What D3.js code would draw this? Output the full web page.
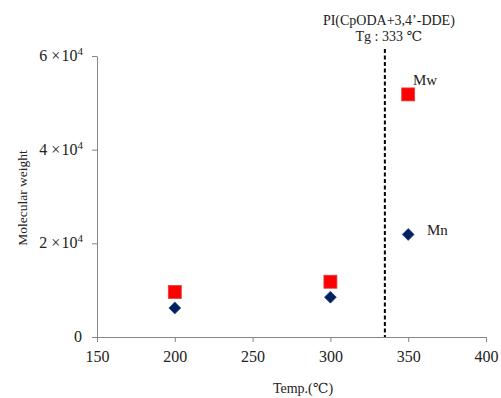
<!DOCTYPE html>
<html>
<head>
<meta charset="utf-8">
<script src="https://cdn.jsdelivr.net/npm/d3@7"></script>
<style>
  body { margin: 0; background: #fff; }
  text { font-family: "Liberation Serif", "DejaVu Serif", serif; fill: #222; }
</style>
</head>
<body>
<div id="chart"></div>
<script>
// temperatures (°C) and molecular weights
const temps = [200, 300, 350];
const mw = [9600, 11800, 51800];
const mn = [6200, 8500, 21900];
const xTicks = [150, 200, 250, 300, 350, 400];
const yTicks = [0, 20000, 40000, 60000];
const yTickLabels = ["0", "2", "4", "6"];
const tg = 335;

const width = 501, height = 398;

const svg = d3.select("#chart").append("svg")
  .attr("width", width)
  .attr("height", height);

const x = d3.scaleLinear().domain([150, 400]).range([97, 486]);
const y = d3.scaleLinear().domain([0, 60000]).range([337, 56]);

// axes
const xAxis = svg.append("g")
  .attr("transform", "translate(0," + y(0) + ")")
  .call(d3.axisBottom(x).tickValues(xTicks).tickSize(5).tickSizeOuter(0).tickPadding(9));
const yAxis = svg.append("g")
  .attr("transform", "translate(" + x(150) + ",0)")
  .call(d3.axisLeft(y).tickValues(yTicks).tickSize(5).tickSizeOuter(0).tickFormat(() => ""));

[xAxis, yAxis].forEach(g => {
  g.select(".domain").attr("stroke", "#868686").attr("stroke-width", 1);
  g.selectAll(".tick line").attr("stroke", "#868686");
});
xAxis.selectAll(".tick text")
  .attr("font-size", 16)
  .attr("fill", "#222");

// y tick labels like 6×10^4
yTicks.forEach((v, i) => {
  const t = svg.append("text")
    .attr("x", 83)
    .attr("y", y(v) + 5)
    .attr("text-anchor", "end")
    .attr("font-size", 16);
  if (v === 0) {
    t.attr("x", 82).text("0");
  } else {
    t.append("tspan").text(yTickLabels[i] + " \u00d7\u200a10");
    t.append("tspan").attr("font-size", 11).attr("dy", -6).text("4");
  }
});

// Tg line
svg.append("line")
  .attr("x1", x(tg)).attr("x2", x(tg))
  .attr("y1", 49).attr("y2", y(0))
  .attr("stroke", "#000")
  .attr("stroke-width", 2)
  .attr("stroke-dasharray", "4,2.5");

svg.append("text")
  .attr("x", x(tg) + 4).attr("y", 25)
  .attr("text-anchor", "middle")
  .attr("font-size", 14)
  .text("PI(CpODA+3,4\u2019-DDE)");
svg.append("text")
  .attr("x", x(tg) + 4).attr("y", 41)
  .attr("text-anchor", "middle")
  .attr("font-size", 14)
  .text("Tg : 333 \u2103");

// Mw squares
svg.append("g").selectAll("rect")
  .data(temps)
  .join("rect")
  .attr("x", (d) => x(d) - 6.5)
  .attr("y", (d, i) => y(mw[i]) - 6.5)
  .attr("width", 13)
  .attr("height", 13)
  .attr("fill", "#ff0000")
  .attr("stroke", "#e04040")
  .attr("stroke-width", 0.8);

// Mn diamonds
svg.append("g").selectAll("path")
  .data(temps)
  .join("path")
  .attr("d", d3.symbol(d3.symbolDiamond2, 90))
  .attr("transform", (d, i) => "translate(" + x(d) + "," + y(mn[i]) + ")")
  .attr("fill", "#002060")
  .attr("stroke", "#2a4a8a")
  .attr("stroke-width", 0.8);

// series labels
svg.append("text").attr("x", 413).attr("y", 85).attr("font-size", 15).text("Mw");
svg.append("text").attr("x", 427).attr("y", 235).attr("font-size", 15).text("Mn");

// axis titles
svg.append("text")
  .attr("transform", "translate(27,198) rotate(-90)")
  .attr("text-anchor", "middle")
  .attr("font-size", 13.5)
  .text("Molecular weight");
svg.append("text")
  .attr("x", 303).attr("y", 393)
  .attr("text-anchor", "middle")
  .attr("font-size", 14)
  .text("Temp.(\u2103)");

// figure caption, cut off by the bottom edge
svg.append("text")
  .attr("x", 34).attr("y", 418)
  .attr("font-size", 28)
  .attr("fill", "#000")
  .text("1.  Effects of imidization temperature and");
</script>
</body>
</html>
